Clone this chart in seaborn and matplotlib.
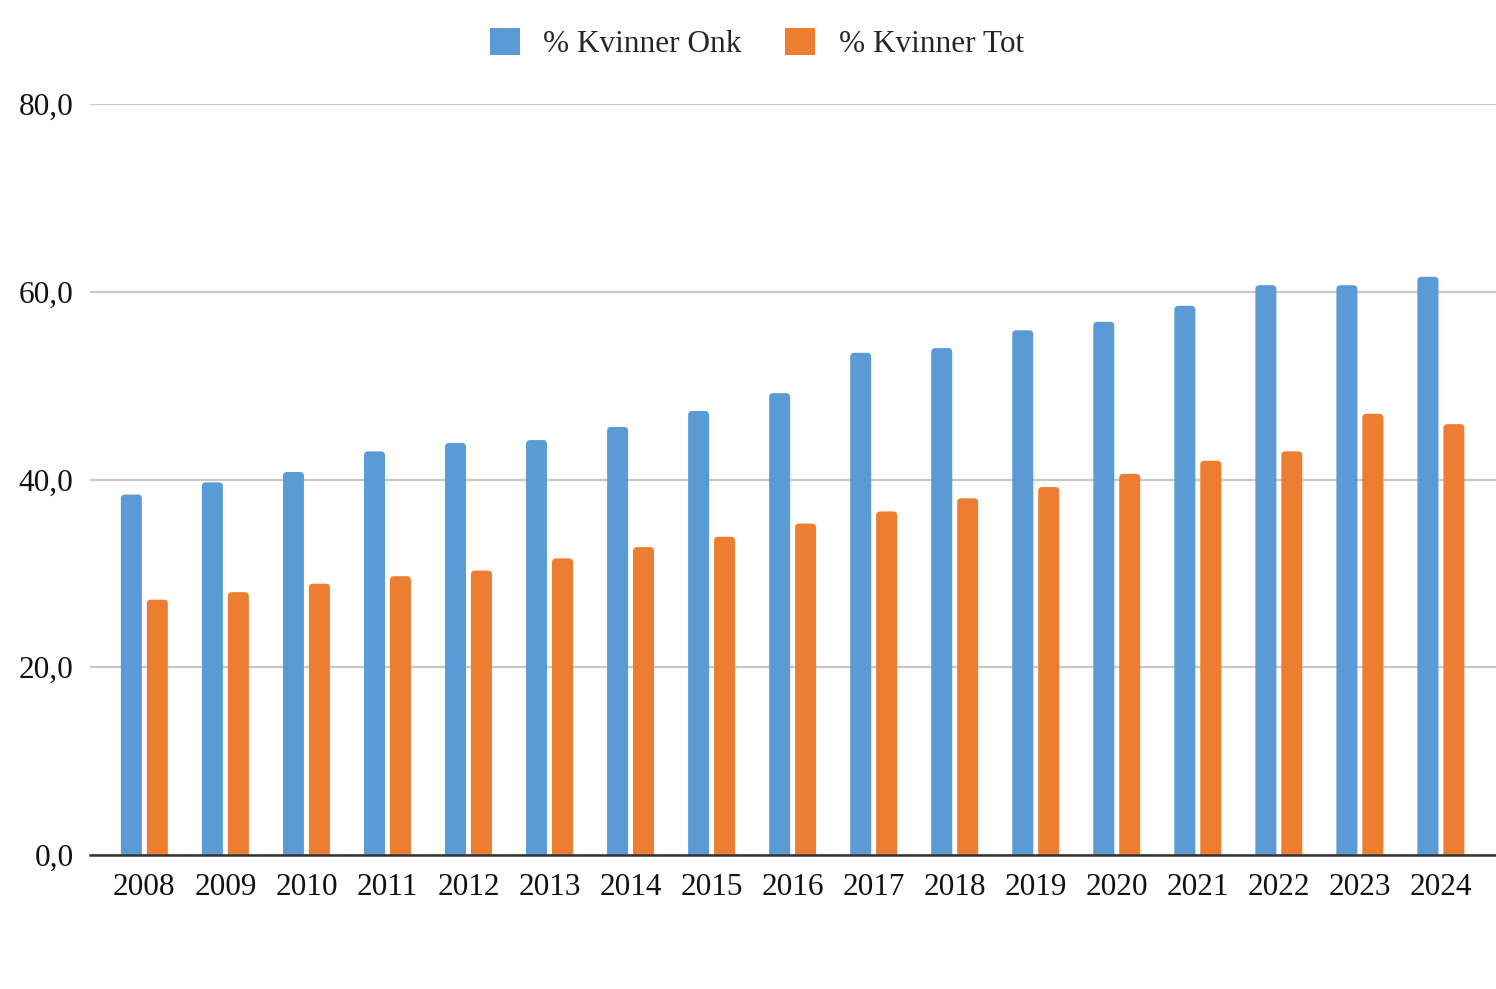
import matplotlib
matplotlib.use("Agg")
import matplotlib.pyplot as plt
import seaborn as sns
import pandas as pd
from matplotlib.patches import FancyBboxPatch, Patch

years = [str(y) for y in range(2008, 2025)]
kvinner_onk = [38.4, 39.7, 40.8, 43.0, 43.9, 44.2, 45.6, 47.3, 49.2, 53.5, 54.0, 55.9, 56.8, 58.5, 60.7, 60.7, 61.6]
kvinner_tot = [27.2, 28.0, 28.9, 29.7, 30.3, 31.6, 32.8, 33.9, 35.3, 36.6, 38.0, 39.2, 40.6, 42.0, 43.0, 47.0, 45.9]
series_names = ["% Kvinner Onk", "% Kvinner Tot"]
colors = ["#5B9BD5", "#ED7D31"]
yticks = [0, 20, 40, 60, 80]

df = pd.DataFrame({
    "year": years * 2,
    "value": kvinner_onk + kvinner_tot,
    "series": [series_names[0]] * len(years) + [series_names[1]] * len(years),
})

sns.set_theme(style="white")
plt.rcParams["font.family"] = ["Liberation Serif", "DejaVu Serif"]

fig = plt.figure(figsize=(14.96, 9.89), dpi=100)
ax = fig.add_axes([0.0602, 0.1355, 0.9398, 0.7593])

sns.barplot(data=df, x="year", y="value", hue="series", palette=colors,
            width=0.64, gap=0.19, ax=ax, legend=False, saturation=1)

# round the top corners of bars
aspect = 8.6
patches = list(ax.patches)
for p in patches:
    x, y = p.get_x(), p.get_y()
    w, h = p.get_width(), p.get_height()
    fc = p.get_facecolor()
    p.remove()
    fb = FancyBboxPatch((x, y - 2), w, h + 2,
                        boxstyle="round,pad=0,rounding_size=0.05",
                        mutation_aspect=aspect, facecolor=fc, edgecolor="none",
                        zorder=2)
    ax.add_patch(fb)

ax.set_xlim(-0.67, 16.68)
ax.set_ylim(0, 80)
ax.set_yticks(yticks)
ax.set_yticklabels([f"{v:.1f}".replace(".", ",") for v in yticks])
ax.yaxis.grid(True, color="#c8c8c8", linewidth=1.6)
ax.set_axisbelow(True)
for s in ["top", "right", "left"]:
    ax.spines[s].set_visible(False)
ax.spines["bottom"].set_color("#333333")
ax.spines["bottom"].set_linewidth(1.8)
ax.spines["bottom"].set_zorder(5)
ax.tick_params(axis="x", length=0, pad=13, labelsize=22.5, labelcolor="#111111")
ax.tick_params(axis="y", length=0, pad=12, labelsize=22.5, labelcolor="#111111")
ax.set_xlabel("")
ax.set_ylabel("")

handles = [Patch(facecolor=c, edgecolor="none") for c in colors]
fig.legend(handles, series_names, loc="center", bbox_to_anchor=(0.506, 0.956),
           ncol=2, frameon=False, fontsize=22.5, handlelength=0.95, handleheight=0.95,
           handletextpad=0.75, columnspacing=1.4)

fig.savefig("out.png", dpi=100)
